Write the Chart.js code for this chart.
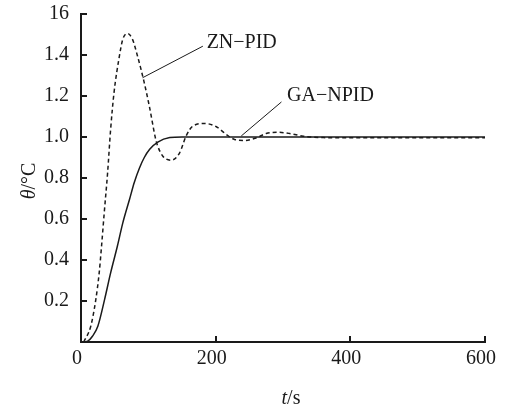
<!DOCTYPE html>
<html lang="en">
<head>
    <meta charset="UTF-8">
    <title>GA-NPID vs ZN-PID</title>
    <style>
        body {
            margin: 0;
            background: #fff;
        }
        canvas {
            display: block;
        }
    </style>
</head>
<body>
    <canvas id="stepChart" width="510" height="411"></canvas>

    <script src="https://cdn.jsdelivr.net/npm/chart.js"></script>
    <script>
        // step response
        const gaTime = [5, 10, 17, 25, 35, 44, 54, 62, 72, 79, 87, 94, 102, 114, 132, 150, 200, 300, 400, 500, 600];
        const gaTheta = [0, 0.004, 0.028, 0.077, 0.207, 0.337, 0.467, 0.58, 0.695, 0.777, 0.85, 0.9, 0.94, 0.975, 0.997, 1.0, 1.0, 1.0, 1.0, 1.0, 1.0];

        const znTime = [4, 14.5, 22, 27, 30.5, 34.5, 39.5, 44, 49, 57, 62, 69, 76.5, 84, 94, 101.5, 111, 114, 121.6, 134, 146.5, 156, 166, 183.6, 201, 216, 228, 243, 260.5, 275, 292.6, 310, 330, 360, 400, 500, 600];
        const znTheta = [0, 0.077, 0.207, 0.337, 0.467, 0.63, 0.825, 1.037, 1.215, 1.394, 1.476, 1.505, 1.476, 1.394, 1.264, 1.15, 0.988, 0.955, 0.906, 0.887, 0.923, 1.004, 1.053, 1.066, 1.05, 1.012, 0.988, 0.983, 0.996, 1.017, 1.023, 1.017, 1.004, 0.997, 0.996, 0.996, 0.996];

        const xTicks = [0, 200, 400, 600];
        const yTicks = [0.2, 0.4, 0.6, 0.8, 1.0, 1.2, 1.4, 1.6];

        // callout labels: [text, lineStartT, lineStartY, lineEndT, lineEndY, textT, textY]
        const callouts = [
            ['ZN\u2212PID', 91.4, 1.289, 181, 1.443, 186.6, 1.461],
            ['GA\u2212NPID', 238, 1.005, 297.7, 1.171, 306, 1.199]
        ];

        const serif = '"Liberation Serif", "Times New Roman", serif';
        const ink = '#1a1a1a';
        const fontSize = 20;

        function toPoints(xs, ys) {
            return xs.map((x, i) => ({ x: x, y: ys[i] }));
        }

        // inward tick marks, axis titles and callouts
        const decorations = {
            id: 'decorations',
            afterDraw(chart) {
                const ctx = chart.ctx;
                const xs = chart.scales.x;
                const ys = chart.scales.y;
                const area = chart.chartArea;
                const f = fontSize + 'px ' + serif;

                ctx.save();
                ctx.strokeStyle = ink;
                ctx.lineWidth = 2;
                ctx.beginPath();
                yTicks.forEach(v => {
                    const py = Math.round(ys.getPixelForValue(v));
                    ctx.moveTo(area.left, py);
                    ctx.lineTo(area.left + 6, py);
                });
                xTicks.slice(1).forEach(v => {
                    const px = Math.round(xs.getPixelForValue(v));
                    ctx.moveTo(px, area.bottom);
                    ctx.lineTo(px, area.bottom - 6);
                });
                ctx.stroke();

                // callouts
                ctx.lineWidth = 1;
                ctx.fillStyle = ink;
                ctx.font = f;
                ctx.textAlign = 'left';
                ctx.textBaseline = 'middle';
                callouts.forEach(c => {
                    ctx.beginPath();
                    ctx.moveTo(xs.getPixelForValue(c[1]), ys.getPixelForValue(c[2]));
                    ctx.lineTo(xs.getPixelForValue(c[3]), ys.getPixelForValue(c[4]));
                    ctx.stroke();
                    ctx.fillText(c[0], xs.getPixelForValue(c[5]), ys.getPixelForValue(c[6]));
                });

                // x title: t/s
                ctx.font = 'italic ' + f;
                const tW = ctx.measureText('t').width;
                ctx.font = f;
                const sW = ctx.measureText('/s').width;
                let x0 = 291 - (tW + sW) / 2;
                ctx.font = 'italic ' + f;
                ctx.fillText('t', x0, 399);
                ctx.font = f;
                ctx.fillText('/s', x0 + tW, 399);

                // y title: theta/°C
                ctx.translate(30, 181);
                ctx.rotate(-Math.PI / 2);
                ctx.font = 'italic ' + f;
                const thW = ctx.measureText('\u03b8').width;
                ctx.font = f;
                const cW = ctx.measureText('/\u00b0C').width;
                x0 = -(thW + cW) / 2;
                ctx.font = 'italic ' + f;
                ctx.fillText('\u03b8', x0, 0);
                ctx.font = f;
                ctx.fillText('/\u00b0C', x0 + thW, 0);
                ctx.restore();
            }
        };

        const ctx = document.getElementById('stepChart').getContext('2d');
        new Chart(ctx, {
            type: 'line',
            data: {
                datasets: [{
                    label: 'ZN-PID',
                    data: toPoints(znTime, znTheta),
                    borderColor: ink,
                    borderWidth: 1.5,
                    borderDash: [4, 3],
                    pointRadius: 0,
                    cubicInterpolationMode: 'monotone',
                    fill: false
                }, {
                    label: 'GA-NPID',
                    data: toPoints(gaTime, gaTheta),
                    borderColor: ink,
                    borderWidth: 1.5,
                    pointRadius: 0,
                    cubicInterpolationMode: 'monotone',
                    fill: false
                }]
            },
            options: {
                responsive: false,
                animation: false,
                layout: { padding: { top: 14, right: 25, left: 0, bottom: 0 } },
                plugins: {
                    legend: { display: false },
                    tooltip: { enabled: false }
                },
                scales: {
                    x: {
                        type: 'linear',
                        min: 0,
                        max: 600,
                        afterBuildTicks: s => { s.ticks = xTicks.map(v => ({ value: v })); },
                        grid: { display: false, drawTicks: false },
                        border: { display: true, width: 2, color: ink },
                        ticks: {
                            color: ink,
                            font: { family: serif, size: fontSize },
                            padding: 5,
                            labelOffset: -4,
                            maxRotation: 0
                        },
                        afterFit: s => {
                            s.height = 69;
                            s.paddingLeft = 0;
                            s.paddingRight = 0;
                        }
                    },
                    y: {
                        min: 0,
                        max: 1.6,
                        afterBuildTicks: s => { s.ticks = [0].concat(yTicks).map(v => ({ value: v })); },
                        grid: { display: false, drawTicks: false },
                        border: { display: true, width: 2, color: ink },
                        ticks: {
                            color: ink,
                            font: { family: serif, size: fontSize },
                            padding: 12,
                            callback: v => {
                                if (v === 0) return '';
                                if (Math.abs(v - 1.6) < 1e-9) return '16';
                                return v.toFixed(1);
                            }
                        },
                        afterFit: s => {
                            s.width = 81;
                            s.paddingTop = 0;
                            s.paddingBottom = 0;
                        }
                    }
                }
            },
            plugins: [decorations]
        });
    </script>
</body>
</html>
